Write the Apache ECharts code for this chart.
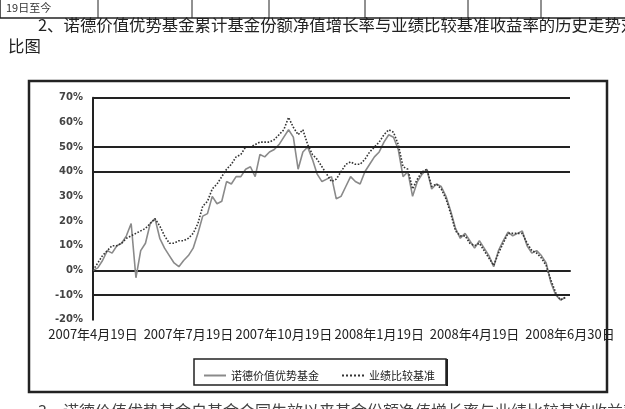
<!DOCTYPE html>
<html>
<head>
<meta charset="utf-8">
<script src="https://cdn.jsdelivr.net/npm/echarts@6/dist/echarts.min.js"></script>
<style>
html,body{margin:0;padding:0;background:#fff;}
#c{width:625px;height:409px;}
</style>
</head>
<body>
<div id="c"></div>
<script>
// tick labels
var xLabels = ["2007年4月19日","2007年7月19日","2007年10月19日","2008年1月19日","2008年4月19日","2008年6月30日"];
var yTicks = {min:-20, max:70, interval:10};
var seriesNames = ["诺德价值优势基金","业绩比较基准"];
// cumulative growth (%) of fund NAV, sampled evenly along the period
var fundValues = [0,1,4,8,7,10,11,14,19,-3,8,11,19,21,13,9,6,3,1.5,4,
  6,9,15,22,23,30,27,28,36,35,38,38,41,42,38,47,46,48,49,51,
  54,57,54,41,48,50,45,39,36,37,38,29,30,34,38,36,35,40,43,46,
  48,52,55,54,49,38,40,30,36,39,41,33,35,34,30,24,17,13,15,12,
  9,12,9,6,1.5,8,12,15.5,14,15,16,10,7,8,6,3,-5,-10,-12,-11];
// benchmark return (%)
var benchValues = [0,3,6,8,10,10,11,13,14,15,16,17,19,21,18,14,11,11,12,12,
  13,15,19,26,28,33,35,38,41,43,46,47,50,50,51,52,52,52,53,55,
  57,62,58,55,57,51,47,45,42,39,36,37,40,43,44,43,43,45,48,50,
  52,55,57,56,51,42,41,33,37,40,41,34,35,33,29,23,16,14,14,11,
  10,11,8,5,2,7,11,15,15,15,15,11,8,7,5,2,-4,-9,-12,-11];
var refLines = [70,50,40,-10];

var chart = echarts.init(document.getElementById('c'));
var toPairs = function(arr){ return arr.map(function(v,i){return [i,v];}); };
var option = {
  backgroundColor:'#fff',
  animation:false,
  grid:{left:93,right:55,top:97.7,bottom:89.3,containLabel:false},
  xAxis:{type:'value',min:0,max:100,interval:20,
    axisLine:{show:true,lineStyle:{color:'#222',width:2}},
    axisTick:{show:false},splitLine:{show:false},
    axisLabel:{color:'#222',fontSize:13,margin:8,fontFamily:'Noto Sans CJK SC',
      formatter:function(v){return xLabels[Math.round(v/20)]||'';}}},
  yAxis:{type:'value',min:yTicks.min,max:yTicks.max,interval:yTicks.interval,
    axisLine:{show:true,lineStyle:{color:'#222',width:2}},
    axisTick:{show:false},splitLine:{show:false},
    axisLabel:{color:'#444',fontSize:10,fontWeight:'bold',margin:10,fontFamily:'DejaVu Sans',
      formatter:function(v){return v+'%';}}},
  legend:{left:198,top:365,itemWidth:22,itemHeight:10,itemGap:22,
    itemStyle:{opacity:0},
    textStyle:{color:'#222',fontSize:11,fontFamily:'Noto Sans CJK SC'},
    data:seriesNames},
  graphic:[
    {type:'rect',shape:{x:29,y:81,width:578,height:311},style:{fill:'none',stroke:'#222',lineWidth:2.5},z:-1},
    {type:'rect',shape:{x:194,y:359,width:252,height:26},style:{fill:'none',stroke:'#222',lineWidth:1.5}},
    {type:'line',shape:{x1:447,y1:359,x2:447,y2:386},style:{stroke:'#222',lineWidth:2}},
    {type:'line',shape:{x1:0,y1:-2,x2:0,y2:18},style:{stroke:'#222',lineWidth:1.5}},
    {type:'line',shape:{x1:0,y1:18,x2:625,y2:18},style:{stroke:'#222',lineWidth:1.5}},
    {type:'line',shape:{x1:98,y1:-2,x2:98,y2:18},style:{stroke:'#222',lineWidth:1}},
    {type:'line',shape:{x1:192,y1:-2,x2:192,y2:18},style:{stroke:'#222',lineWidth:1}},
    {type:'line',shape:{x1:269,y1:-2,x2:269,y2:18},style:{stroke:'#222',lineWidth:1}},
    {type:'line',shape:{x1:365,y1:-2,x2:365,y2:18},style:{stroke:'#222',lineWidth:1}},
    {type:'line',shape:{x1:468,y1:-2,x2:468,y2:18},style:{stroke:'#222',lineWidth:1}},
    {type:'line',shape:{x1:541,y1:-2,x2:541,y2:18},style:{stroke:'#222',lineWidth:1}},
    {type:'text',left:6,top:2,style:{text:'19日至今',fill:'#333',font:'11px "Noto Sans CJK SC"'}},
    {type:'text',left:38,top:17,style:{text:'2、诺德价值优势基金累计基金份额净值增长率与业绩比较基准收益率的历史走势对',fill:'#222',font:'16.4px "Noto Sans CJK SC"'}},
    {type:'text',left:8,top:38,style:{text:'比图',fill:'#222',font:'16.4px "Noto Sans CJK SC"'}},
    {type:'text',left:38,top:403,style:{text:'3、诺德价值优势基金自基金合同生效以来基金份额净值增长率与业绩比较基准收益率',fill:'#444',font:'16px "Noto Sans CJK SC"'}}
  ],
  series:[
    {name:seriesNames[0],type:'line',data:toPairs(fundValues),symbol:'none',
     lineStyle:{color:'#8a8a8a',width:1.6,type:'solid'},itemStyle:{color:'#8a8a8a'},
     markLine:{silent:true,symbol:'none',label:{show:false},
       lineStyle:{color:'#222',width:2,type:'solid'},
       data:refLines.map(function(v){return {yAxis:v};})}},
    {name:seriesNames[1],type:'line',data:toPairs(benchValues),symbol:'none',
     lineStyle:{color:'#333',width:1.6,type:'dotted'},itemStyle:{color:'#333'}}
  ]
};
chart.setOption(option);
</script>
</body>
</html>
